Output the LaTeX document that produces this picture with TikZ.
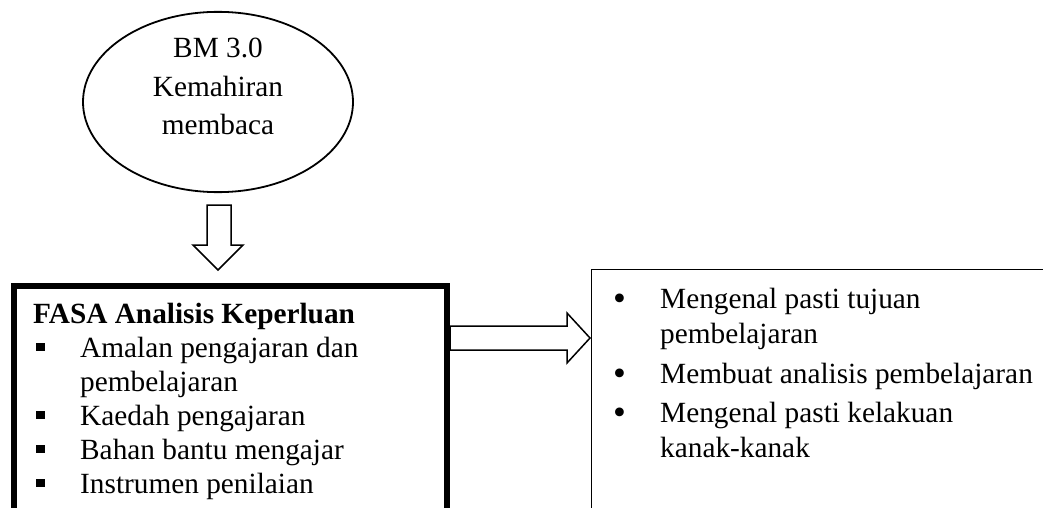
\documentclass[tikz,border=0pt]{standalone}
\usepackage{fontspec}
\setmainfont{Liberation Serif}
\usetikzlibrary{shapes.geometric}
\tikzset{
  blockarrow/.style={draw=black, fill=white, line width=1.5pt, line join=miter},
  listtext/.style={anchor=base west, inner sep=0pt, font=\fontsize{29.3}{34}\selectfont}
}
\newcommand{\sqbul}{\hspace*{3pt}\raisebox{6pt}{\rule{8.5pt}{8.5pt}}}
\newcommand{\rdbul}{\raisebox{-2pt}{\scalebox{1.25}{•}}}
\begin{document}
\begin{tikzpicture}[x=1pt,y=-1pt]
\useasboundingbox (0,0) rectangle (1043,508);
\clip (0,0) rectangle (1043,508);
% top ellipse
\node[ellipse, draw, line width=1.8pt, minimum width=270pt, minimum height=174pt,
      inner sep=0pt, align=center, text depth=31pt,
      font=\fontsize{29.3}{38.5}\selectfont] (bm) at (218,102)
      {BM 3.0\\Kemahiran\\membaca};
% left thick box
\node[draw, line width=5.5pt, anchor=north west, minimum width=433pt,
      minimum height=320pt, inner sep=0pt] (fasa) at (11,283) {};
% right thin box
\node[draw, line width=1.4pt, anchor=north west, minimum width=600pt,
      minimum height=320pt, inner sep=0pt] (tujuan) at (591,269) {};
% down block arrow
\draw[blockarrow] (207,205) -- (231,205) -- (231,245) -- (243,245) -- (218,270)
   -- (193,245) -- (207,245) -- cycle;
% right block arrow
\draw[blockarrow] (450,326) -- (567,326) -- (567,313) -- (590,338) -- (567,363)
   -- (567,350) -- (450,350) -- cycle;
% left text
\node[listtext] (fasatext) at (33,323) {%
  \begin{tabular}[t]{@{}p{47pt}@{}l@{}}
  \multicolumn{2}{@{}l@{}}{\textbf{FASA Analisis Keperluan}}\\
  \sqbul & Amalan pengajaran dan\\
   & pembelajaran\\
  \sqbul & Kaedah pengajaran\\
  \sqbul & Bahan bantu mengajar\\
  \sqbul & Instrumen penilaian
  \end{tabular}};
% right text
\node[listtext, font=\fontsize{29.3}{35}\selectfont] (tujuantext) at (613,308) {%
  \begin{tabular}[t]{@{}p{47pt}@{}l@{}}
  \rdbul & Mengenal pasti tujuan\\
    & pembelajaran\\[5pt]
  \rdbul & Membuat analisis pembelajaran\\[4pt]
  \rdbul & Mengenal pasti kelakuan\\
    & kanak-kanak
  \end{tabular}};
\end{tikzpicture}
\end{document}
